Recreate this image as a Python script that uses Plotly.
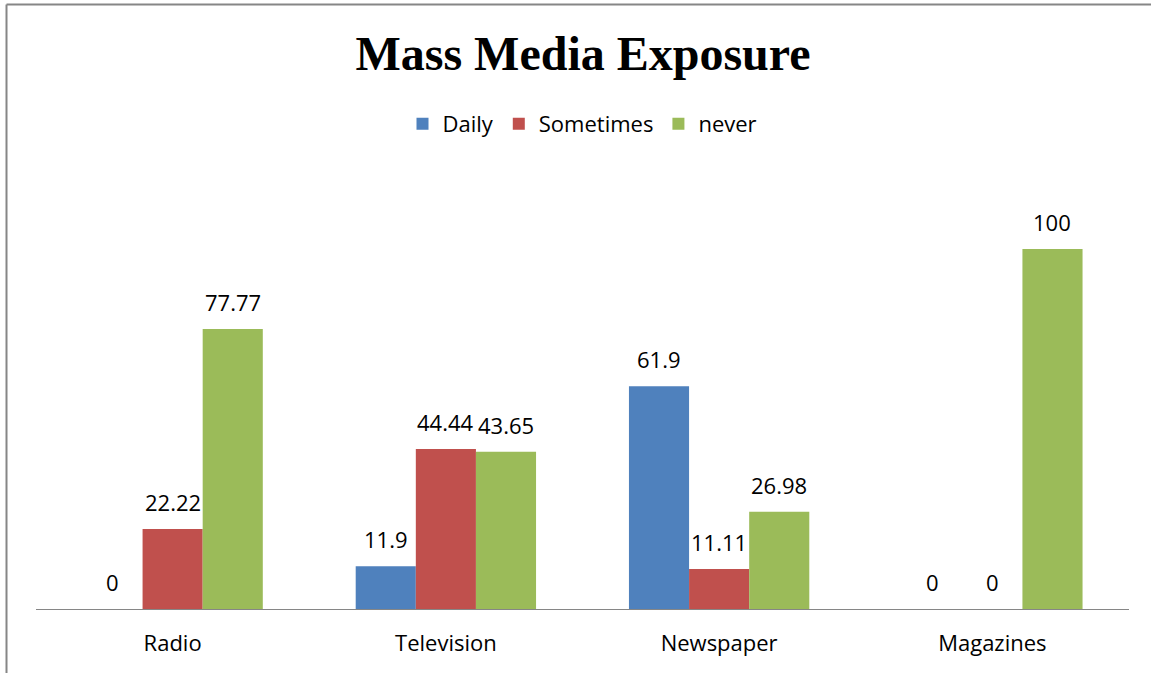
import plotly.graph_objects as go

categories = ["Radio", "Television", "Newspaper", "Magazines"]
series_names = ["Daily", "Sometimes", "never"]
daily = [0, 11.9, 61.9, 0]
sometimes = [22.22, 44.44, 11.11, 0]
never = [77.77, 43.65, 26.98, 100]

COLORS = ["#4F81BD", "#C0504D", "#9BBB59"]
FONT = "'Open Sans', Lato, sans-serif"
AXIS_GRAY = "#868686"

# page pixels; body margin is removed below so the figure starts at 0,0
W, H = 1151, 673
PLOT_L, PLOT_R, PLOT_B = 36, 1129, 609
M_T = 180
M_L, M_R, M_B = PLOT_L, W - PLOT_R, H - PLOT_B
Y_TOP = 100 * (PLOT_B - M_T) / 360   # 360 px per 100 units
BAR_PX = 60

fig = go.Figure()
for i, (name, vals) in enumerate(zip(series_names, [daily, sometimes, never])):
    fig.add_trace(go.Bar(
        x=categories, y=vals, name=name,
        marker=dict(color=COLORS[i], line=dict(width=0)),
        hoverinfo="skip",
    ))
    for cat, v in zip(categories, vals):
        fig.add_annotation(
            x=cat, y=v, text=f"{v:g}", showarrow=False,
            xshift=(i - 1) * BAR_PX, yshift=27, yanchor="middle",
            font=dict(family=FONT, size=22, color="#000000"),
        )

ph = PLOT_B - M_T
pw = PLOT_R - PLOT_L

fig.update_layout(
    width=W, height=H,
    barmode="group", bargap=0.34, bargroupgap=0,
    paper_bgcolor="white", plot_bgcolor="white",
    margin=dict(l=M_L, r=M_R, t=M_T, b=M_B),
    font=dict(family=FONT, size=22, color="#000000"),
    title=dict(
        text="<b>Mass Media Exposure</b>",
        font=dict(family="'Liberation Serif', 'Times New Roman', serif", size=48, color="#000000"),
        x=583 / W, xanchor="center", y=1 - 53 / H, yanchor="middle",
    ),
    legend=dict(
        orientation="h", x=0.5, xanchor="center",
        y=(PLOT_B - 124) / ph, yanchor="middle",
        font=dict(family=FONT, size=22), itemwidth=30, traceorder="normal",
    ),
    xaxis=dict(
        showline=True, linecolor=AXIS_GRAY, linewidth=1,
        ticks="", showgrid=False, ticklabelstandoff=15,
        tickfont=dict(family=FONT, size=22),
    ),
    yaxis=dict(visible=False, range=[0, Y_TOP], showgrid=False, zeroline=False),
    showlegend=True,
)

# chart border (top and left edges visible in the crop)
top_y = (PLOT_B - 4.5) / ph
left_x = (6.5 - PLOT_L) / pw
right_x = (W - PLOT_L) / pw
bottom_y = -(H - PLOT_B) / ph
fig.add_shape(type="line", xref="paper", yref="paper", x0=left_x, x1=right_x, y0=top_y, y1=top_y,
              line=dict(color=AXIS_GRAY, width=2))
fig.add_shape(type="line", xref="paper", yref="paper", x0=left_x, x1=left_x, y0=top_y, y1=bottom_y,
              line=dict(color=AXIS_GRAY, width=2))

fig.write_html(
    "out.html",
    config={"displayModeBar": False},
    post_script="document.body.style.margin='0';",
)
